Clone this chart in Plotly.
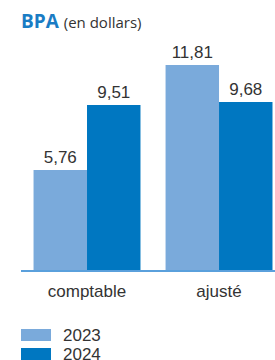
import plotly.graph_objects as go

categories = ["comptable", "ajusté"]
years = ["2023", "2024"]
values_2023 = [5.76, 11.81]
values_2024 = [9.51, 9.68]
labels_2023 = ["5,76", "11,81"]
labels_2024 = ["9,51", "9,68"]

colors = {"2023": "#7aaadb", "2024": "#0077c1"}
font_cond = "Liberation Sans, Arial, sans-serif"
txt_color = "#333333"
FS = 17

W, H = 275, 360
L, R, T, B = 21, 0, 40, 90
PW, PH = W - L - R, H - T - B

fig = go.Figure()
for yr, vals, labs in [("2023", values_2023, labels_2023), ("2024", values_2024, labels_2024)]:
    fig.add_trace(go.Bar(
        x=categories, y=vals, name=yr, text=labs, textposition="outside",
        marker=dict(color=colors[yr], line=dict(width=0)),
        textfont=dict(family=font_cond, size=FS, color=txt_color),
        cliponaxis=False, showlegend=False,
    ))

fig.update_layout(
    width=W, height=H,
    margin=dict(l=L, r=R, t=T, b=B),
    paper_bgcolor="white", plot_bgcolor="white",
    barmode="group", bargap=0.19, bargroupgap=0,
    title=dict(
        text="<b><span style='color:#1a7cc4'>BPA</span></b> <span style='font-size:15px'>(en dollars)</span>",
        x=0, xref="paper", xanchor="left", y=1, yref="container", yanchor="top",
        pad=dict(t=15, l=0),
        font=dict(family="Open Sans, sans-serif", size=19, color=txt_color),
    ),
    xaxis=dict(
        range=[-0.5, 1.424], showline=True, linecolor="#5aa0dc", linewidth=1.5,
        ticks="", tickfont=dict(family=font_cond, size=FS, color=txt_color),
        ticklabelstandoff=5,
        showgrid=False, zeroline=False,
    ),
    yaxis=dict(range=[0, 13.25], visible=False, showgrid=False, zeroline=False),
)

# manual legend (paper coords relative to plot area)
for i, yr in enumerate(years):
    top_px = 329 + i * 19
    y1 = (H - B - top_px) / PH
    y0 = (H - B - top_px - 12) / PH
    fig.add_shape(type="rect", xref="paper", yref="paper",
                  x0=0, x1=30 / PW, y0=y0, y1=y1,
                  fillcolor=colors[yr], line=dict(width=0))
    fig.add_annotation(xref="paper", yref="paper", x=40 / PW, y=(y0 + y1) / 2,
                       text=yr, showarrow=False, xanchor="left", yanchor="middle",
                       font=dict(family=font_cond, size=FS, color=txt_color))

fig.write_html("out.html", config={"displayModeBar": False},
               post_script="document.body.style.margin='0';document.body.style.overflow='hidden';")
